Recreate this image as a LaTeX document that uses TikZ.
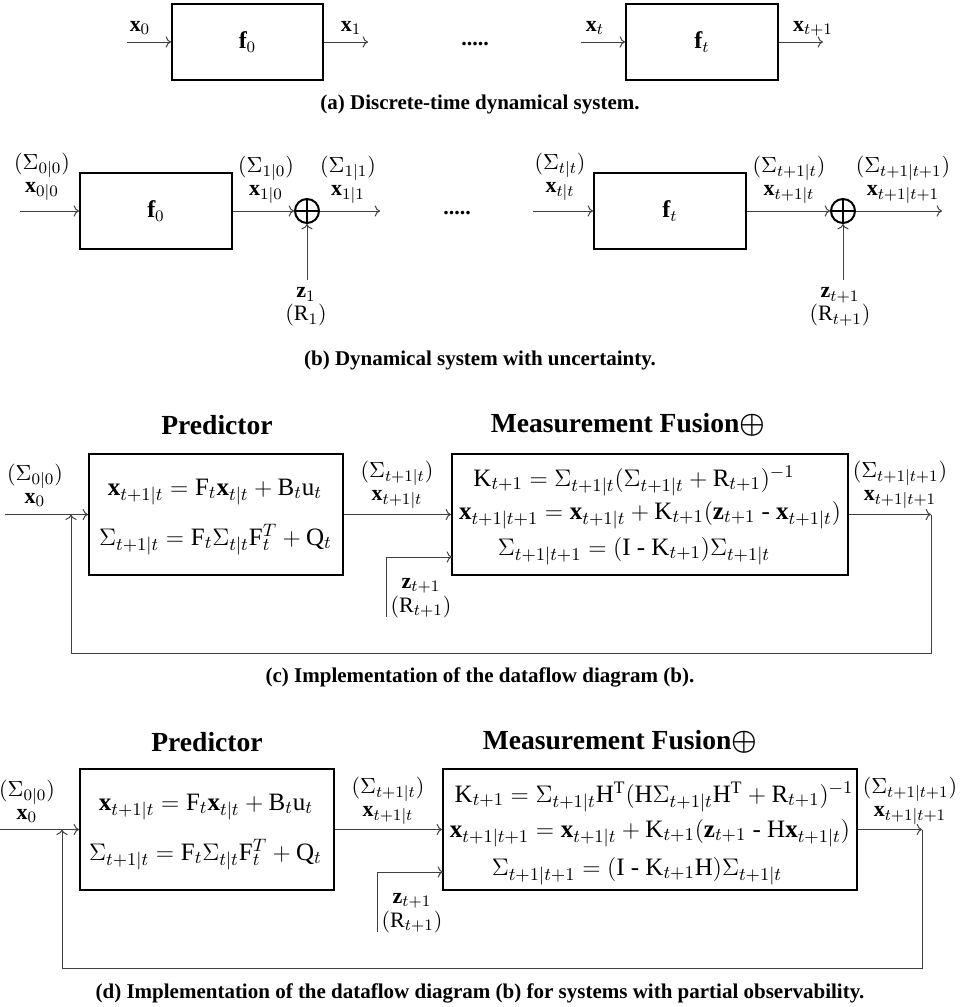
\documentclass[tikz,border=0pt]{standalone}
\usepackage{fontspec}
\setmainfont{Liberation Serif}
\usetikzlibrary{arrows.meta}
\begin{document}
\begin{tikzpicture}[x=0.5pt,y=-0.5pt,
  box/.style={draw, line width=1pt, inner sep=0, rectangle, font=\large},
  conn/.style={draw=black!75, line width=0.5pt},
  arr/.style={conn, ->},
  lbl/.style={inner sep=0, align=center, font=\fontsize{11}{11.5}\selectfont},
  zlbl/.style={inner sep=0, align=center, font=\fontsize{11}{10.2}\selectfont},
  single/.style={inner sep=0, anchor=base, font=\fontsize{11}{13}\selectfont},
  eqn/.style={inner sep=0, font=\fontsize{12.5}{15}\selectfont, anchor=base},
  captext/.style={inner sep=0, font=\fontsize{10.5}{12}\selectfont\bfseries},
  ttl/.style={inner sep=0, font=\fontsize{13.8}{16}\selectfont\bfseries\boldmath},
  dotsnode/.style={inner sep=0, font=\fontsize{11}{13}\selectfont\bfseries, anchor=base},
  sumnode/.style={circle, draw, line width=1pt, minimum size=12pt, inner sep=0,
    path picture={\draw[line width=1pt] (path picture bounding box.north) -- (path picture bounding box.south)
      (path picture bounding box.west) -- (path picture bounding box.east);}}
]
\useasboundingbox (0,0) rectangle (964,1007);

% ---------------- (a)
\node[box, minimum width=75.5pt, minimum height=38pt] (fa0) at (247.5,42) {$\mathbf{f}_0$};
\node[box, minimum width=76pt, minimum height=38pt] (fat) at (702,42) {$\mathbf{f}_t$};
\coordinate (ain0) at (127,42);
\coordinate (aout0) at (368,42);
\coordinate (aint) at (581,42);
\coordinate (aoutt) at (823,42);
\draw[arr] (ain0) -- (fa0.west);
\draw[arr] (fa0.east) -- (aout0);
\draw[arr] (aint) -- (fat.west);
\draw[arr] (fat.east) -- (aoutt);
\node[single] (la0) at (140,31) {$\mathbf{x}_0$};
\node[single] (la1) at (351,31) {$\mathbf{x}_1$};
\node[single] (lat) at (595,31) {$\mathbf{x}_t$};
\node[single] (lat1) at (813,31) {$\mathbf{x}_{t+1}$};
\node[dotsnode] (adots) at (475,45) {.....};
\node[captext] (capa) at (480,104) {(a) Discrete-time dynamical system.};

% ---------------- (b)
\node[box, minimum width=76pt, minimum height=38pt] (fb0) at (156,211) {$\mathbf{f}_0$};
\node[box, minimum width=76pt, minimum height=38pt] (fbt) at (670,211) {$\mathbf{f}_t$};
\node[sumnode] (sum1) at (307,211) {};
\node[sumnode] (sumt) at (843,211) {};
\coordinate (bin0) at (20,211);
\coordinate (bout1) at (380,211);
\coordinate (bint) at (533,211);
\coordinate (boutt) at (942,211);
\coordinate (bz1) at (307,280);
\coordinate (bzt) at (843,280);
\draw[arr] (bin0) -- (fb0.west);
\draw[arr] (fb0.east) -- (sum1.west);
\draw[arr] (sum1.east) -- (bout1);
\draw[arr] (bz1) -- (sum1.south);
\draw[arr] (bint) -- (fbt.west);
\draw[arr] (fbt.east) -- (sumt.west);
\draw[arr] (sumt.east) -- (boutt);
\draw[arr] (bzt) -- (sumt.south);
\node[lbl] (lb00) at (42,177) {$(\Sigma_{0|0})$\\$\mathbf{x}_{0|0}$};
\node[lbl] (lb10) at (266,180) {$(\Sigma_{1|0})$\\$\mathbf{x}_{1|0}$};
\node[lbl] (lb11) at (348,180) {$(\Sigma_{1|1})$\\$\mathbf{x}_{1|1}$};
\node[lbl] (lbz1) at (306,307) {$\mathbf{z}_1$\\$(\mathrm{R}_1)$};
\node[lbl] (lbtt) at (560,177) {$(\Sigma_{t|t})$\\$\mathbf{x}_{t|t}$};
\node[lbl] (lbt1t) at (789,180) {$(\Sigma_{t+1|t})$\\$\mathbf{x}_{t+1|t}$};
\node[lbl] (lbt1t1) at (903,180) {$(\Sigma_{t+1|t+1})$\\$\mathbf{x}_{t+1|t+1}$};
\node[lbl] (lbzt) at (840,307) {$\mathbf{z}_{t+1}$\\$(\mathrm{R}_{t+1})$};
\node[dotsnode] (bdots) at (457,214) {.....};
\node[captext] (capb) at (480,360) {(b) Dynamical system with uncertainty.};

% ---------------- (c)
\node[ttl] (tpc) at (217,425) {Predictor};
\node[ttl] (tmc) at (628,425) {Measurement Fusion$\oplus$};
\node[box, minimum width=127pt, minimum height=60.5pt] (pc) at (216,514.5) {};
\node[box, minimum width=198pt, minimum height=60.5pt] (mc) at (650,514.5) {};
\node[eqn] (ec1) at (215,495) {$\mathbf{x}_{t+1|t} = \mathrm{F}_t\mathbf{x}_{t|t} + \mathrm{B}_t\mathrm{u}_t$};
\node[eqn] (ec2) at (215.5,545) {$\Sigma_{t+1|t} = \mathrm{F}_t\Sigma_{t|t}\mathrm{F}^T_t + \mathrm{Q}_t$};
\node[eqn] (ec3) at (634,486) {$\mathrm{K}_{t+1} = \Sigma_{t+1|t}(\Sigma_{t+1|t} + \mathrm{R}_{t+1})^{-1}$};
\node[eqn] (ec4) at (650,519) {$\mathbf{x}_{t+1|t+1} = \mathbf{x}_{t+1|t} + \mathrm{K}_{t+1}(\mathbf{z}_{t+1}\ \mbox{-}\ \mathbf{x}_{t+1|t})$};
\node[eqn] (ec5) at (634,555) {$\Sigma_{t+1|t+1} = (\mathrm{I}\ \mbox{-}\ \mathrm{K}_{t+1})\Sigma_{t+1|t}$};
\coordinate (cin) at (5,514.5);
\coordinate (cjoin) at (71,514.5);
\coordinate (cfb) at (71,653);
\coordinate (cout) at (931,514.5);
\coordinate (cz) at (386,617);
\coordinate (czin) at (452,557);
\draw[arr] (cin) -- (pc.west);
\draw[arr] (pc.east) -- (mc.west);
\draw[arr] (cz) |- (czin);
\draw[arr] (mc.east) -- (cout);
\draw[arr] (cout) |- (cfb) -- (cjoin);
\node[lbl] (lc00) at (35,485) {$(\Sigma_{0|0})$\\$\mathbf{x}_0$};
\node[lbl] (lct1t) at (397,485) {$(\Sigma_{t+1|t})$\\$\mathbf{x}_{t+1|t}$};
\node[lbl] (lct1t1) at (900,485) {$(\Sigma_{t+1|t+1})$\\$\mathbf{x}_{t+1|t+1}$};
\node[zlbl] (lcz) at (421,598) {$\mathbf{z}_{t+1}$\\$(\mathrm{R}_{t+1})$};
\node[captext] (capc) at (480,677) {(c) Implementation of the dataflow diagram (b).};

% ---------------- (d)
\node[ttl] (tpd) at (207,742) {Predictor};
\node[ttl] (tmd) at (620,742) {Measurement Fusion$\oplus$};
\node[box, minimum width=127pt, minimum height=60.5pt] (pd) at (207,829.5) {};
\node[box, minimum width=207pt, minimum height=60.5pt] (md) at (650,829.5) {};
\node[eqn] (ed1) at (206,810) {$\mathbf{x}_{t+1|t} = \mathrm{F}_t\mathbf{x}_{t|t} + \mathrm{B}_t\mathrm{u}_t$};
\node[eqn] (ed2) at (205.5,860) {$\Sigma_{t+1|t} = \mathrm{F}_t\Sigma_{t|t}\mathrm{F}^T_t + \mathrm{Q}_t$};
\node[eqn] (ed3) at (654,802) {$\mathrm{K}_{t+1} = \Sigma_{t+1|t}\mathrm{H}^{\mathrm{T}}(\mathrm{H}\Sigma_{t+1|t}\mathrm{H}^{\mathrm{T}} + \mathrm{R}_{t+1})^{-1}$};
\node[eqn] (ed4) at (650,837) {$\mathbf{x}_{t+1|t+1} = \mathbf{x}_{t+1|t} + \mathrm{K}_{t+1}(\mathbf{z}_{t+1}\ \mbox{-}\ \mathrm{H}\mathbf{x}_{t+1|t})$};
\node[eqn] (ed5) at (637,875) {$\Sigma_{t+1|t+1} = (\mathrm{I}\ \mbox{-}\ \mathrm{K}_{t+1}\mathrm{H})\Sigma_{t+1|t}$};
\coordinate (din) at (0,829.5);
\coordinate (djoin) at (62,829.5);
\coordinate (dfb) at (62,968);
\coordinate (dout) at (922,829.5);
\coordinate (dz) at (377,932);
\coordinate (dzin) at (443,872);
\draw[arr] (din) -- (pd.west);
\draw[arr] (pd.east) -- (md.west);
\draw[arr] (dz) |- (dzin);
\draw[arr] (md.east) -- (dout);
\draw[arr] (dout) |- (dfb) -- (djoin);
\node[lbl] (ld00) at (27,801) {$(\Sigma_{0|0})$\\$\mathbf{x}_0$};
\node[lbl] (ldt1t) at (388,801) {$(\Sigma_{t+1|t})$\\$\mathbf{x}_{t+1|t}$};
\node[lbl] (ldt1t1) at (910,801) {$(\Sigma_{t+1|t+1})$\\$\mathbf{x}_{t+1|t+1}$};
\node[zlbl] (ldz) at (412,913) {$\mathbf{z}_{t+1}$\\$(\mathrm{R}_{t+1})$};
\node[captext] (capd) at (480,993) {(d) Implementation of the dataflow diagram (b) for systems with partial observability.};
\end{tikzpicture}
\end{document}
